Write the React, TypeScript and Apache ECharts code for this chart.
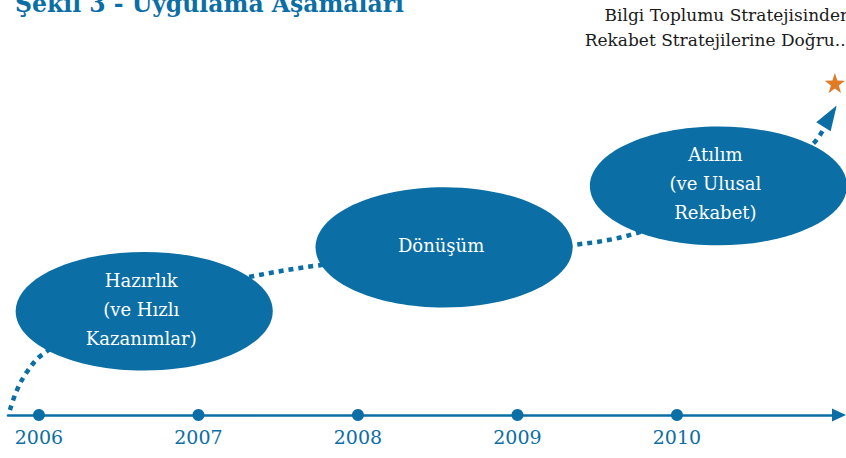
import React, { useEffect, useRef } from "react";
import * as echarts from "echarts";

// ---- data ----
const years = [2006, 2007, 2008, 2009, 2010];
const stageNames = ["Hazırlık\n(ve Hızlı\nKazanımlar)", "Dönüşüm", "Atılım\n(ve Ulusal\nRekabet)"];
const stageYears = [2006.66, 2008.54, 2010.26];
const stageLevels = [25, 40.4, 55.2];
const stageHalfSpan = [0.806, 0.806, 0.806];
const stageHalfHeight = [14.3, 14.5, 14.3];
const pathYears = [2005.818, 2005.862, 2005.925, 2006.019, 2006.508, 2007.323, 2007.762, 2008.539, 2009.348, 2009.768, 2010.395, 2010.846, 2010.96];
const pathLevels = [1.2, 6.0, 10.4, 14.5, 26.5, 33.3, 36.1, 39.3, 41.0, 44.1, 54.2, 65.1, 72.0];
const goalPoint = [2010.99, 80];
const titleText = "Şekil 3 - Uygulama Aşamaları";
const goalText = "Bilgi Toplumu Stratejisinden\nRekabet Stratejilerine Doğru...";

const BLUE = "#0b6ea5";
const ORANGE = "#e07a25";
const FONT = "DejaVu Serif";

function starPath(): string {
  const pts: string[] = [];
  for (let i = 0; i < 10; i++) {
    const r = i % 2 === 0 ? 50 : 20;
    const a = -Math.PI / 2 + (i * Math.PI) / 5;
    pts.push(`${(50 + r * Math.cos(a)).toFixed(2)} ${(50 + r * Math.sin(a)).toFixed(2)}`);
  }
  return "path://M" + pts.join(" L") + " Z";
}

export default function App() {
  const ref = useRef<HTMLDivElement>(null);
  useEffect(() => {
    if (!ref.current) return;
    const chart = echarts.init(ref.current, null, { renderer: "svg" });
    const pathData = pathYears.map((x, i) => {
      const last = i === pathYears.length - 1;
      return last
        ? { value: [x, pathLevels[i]], symbol: "triangle", symbolSize: [17, 25], symbolRotate: -32 }
        : { value: [x, pathLevels[i]], symbol: "none" };
    });
    chart.setOption({
      animation: false,
      textStyle: { fontFamily: FONT },
      grid: { left: 8, right: 7, top: 0, bottom: 43, containLabel: false },
      xAxis: {
        type: "value",
        min: 2005.806,
        max: 2011.016,
        splitLine: { show: false },
        axisTick: { show: false },
        axisLabel: { show: false },
        axisLine: {
          show: true,
          symbol: ["none", "triangle"],
          symbolSize: [13, 14],
          symbolOffset: [0, 0],
          lineStyle: { color: BLUE, width: 2.5 },
        },
      },
      yAxis: { type: "value", min: 0, max: 100, show: false },
      graphic: [
        {
          type: "text",
          x: 15,
          y: 16,
          style: {
            text: titleText,
            fill: BLUE,
            fontSize: 23.5,
            fontWeight: "bold",
            fontFamily: FONT,
            align: "left",
            verticalAlign: "bottom",
          },
        },
        {
          type: "text",
          x: 851,
          y: 27.5,
          style: {
            text: goalText,
            fill: "#1a1a1a",
            fontSize: 17,
            fontFamily: FONT,
            align: "right",
            verticalAlign: "middle",
            lineHeight: 25,
          },
        },
      ],
      series: [
        {
          type: "line",
          z: 2,
          smooth: 0.35,
          clip: false,
          showSymbol: true,
          itemStyle: { color: BLUE, opacity: 1 },
          lineStyle: { color: BLUE, width: 4.5, type: [5, 5] },
          data: pathData,
        },
        {
          type: "custom",
          z: 3,
          clip: false,
          data: stageYears.map((x, i) => [x, stageLevels[i], stageHalfSpan[i], stageHalfHeight[i]]),
          renderItem: (params: any, api: any) => {
            const c = api.coord([api.value(0), api.value(1)]);
            const s = api.size([api.value(2), api.value(3)]);
            return {
              type: "group",
              children: [
                {
                  type: "ellipse",
                  shape: { cx: c[0], cy: c[1], rx: s[0], ry: s[1] },
                  style: { fill: BLUE },
                },
                {
                  type: "text",
                  x: c[0] - 3,
                  y: c[1] - 2,
                  style: {
                    text: stageNames[params.dataIndex],
                    fill: "#ffffff",
                    fontSize: 18,
                    fontFamily: FONT,
                    align: "center",
                    verticalAlign: "middle",
                    lineHeight: 29,
                  },
                },
              ],
            };
          },
        },
        {
          type: "scatter",
          z: 4,
          clip: false,
          symbol: "circle",
          symbolSize: 12,
          itemStyle: { color: BLUE, opacity: 1 },
          label: {
            show: true,
            position: "bottom",
            distance: 6,
            color: BLUE,
            fontSize: 19,
            fontFamily: FONT,
            formatter: (p: any) => String(p.value[0]),
          },
          data: years.map((y) => [y, 0]),
        },
        {
          type: "scatter",
          z: 4,
          clip: false,
          symbol: starPath(),
          symbolSize: 20,
          itemStyle: { color: ORANGE, opacity: 1 },
          data: [goalPoint],
        },
      ],
    });
    return () => chart.dispose();
  }, []);
  return (
    <div
      ref={ref}
      style={{ position: "fixed", left: 0, top: 0, width: 846, height: 458, background: "#fff" }}
    />
  );
}
